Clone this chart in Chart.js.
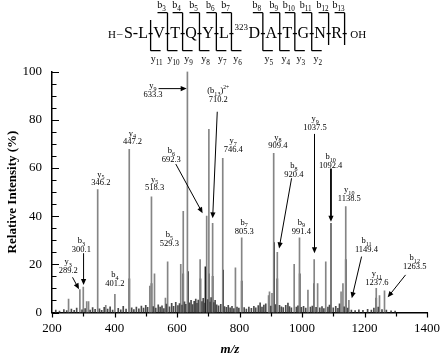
<!DOCTYPE html>
<html>
<head>
<meta charset="utf-8">
<script src="https://cdn.jsdelivr.net/npm/chart.js@4.4.0/dist/chart.umd.min.js"></script>
<style>
  html, body { margin: 0; padding: 0; background: #fff; }
</style>
</head>
<body>
<canvas id="spectrum" width="448" height="357"></canvas>
<script>
// grey main peaks (m/z, relative intensity %)
var peakMz  = [253, 289.2, 300.1, 311, 317, 346.2, 372, 401.2, 447.2, 513,
               518.3, 528, 563, 570, 612, 620, 633.3, 674, 695, 702,
               714, 746.4, 787, 807, 893, 896, 904, 909.4, 921, 975,
               992, 1019, 1039, 1050, 1076, 1093, 1125, 1131, 1140, 1150,
               1237.6, 1248, 1264];
var peakInt = [5.6, 9.5, 10.5, 4.5, 4.5, 51, 3, 7.5, 67.7, 11,
               48, 16, 6, 21, 20, 42, 100, 22, 40, 76,
               37, 64, 18.5, 31, 7, 8.6, 8, 66, 25, 20,
               31, 9.3, 22, 12, 21, 37, 8.6, 12, 44, 5,
               10, 7, 9];

// dark overlay lines
var darkMz  = [447.5, 518.5, 620, 635, 675, 691, 702, 714, 747.6, 807, 910.5, 921, 992.6, 1039, 1093, 1140, 1237.6];
var darkInt = [14, 12, 16, 17, 14, 19, 16, 15, 17.6, 13, 29, 14, 16, 12, 37, 22, 6];

// small background lines
var noiseMz  = [212, 224, 238, 247, 262, 271, 279, 296, 306, 322, 330, 338, 352, 359, 367, 378, 386, 394,
                412, 420, 428, 437, 455, 462, 470, 478, 486, 493, 500, 506, 524, 532, 540, 546, 552, 558,
                566, 576, 583, 589, 596, 603, 608, 616, 624, 628, 640, 645, 650, 655, 660, 664, 668, 680,
                684, 687, 698, 706, 709, 718, 722, 727, 733, 740, 752, 758, 764, 770, 776, 782, 792, 798,
                815, 822, 830, 838, 846, 852, 860, 866, 872, 878, 884, 900, 915, 928, 934, 940, 948, 955,
                960, 966, 982, 987, 998, 1005, 1012, 1027, 1033, 1045, 1057, 1064, 1070, 1083, 1088, 1100,
                1108, 1115, 1120, 1135, 1146, 1158, 1170, 1182, 1195, 1210, 1222, 1230, 1244, 1256, 1270,
                1285, 1298];
var noiseInt = [1.0, 0.6, 1.2, 0.8, 1.4, 0.9, 1.8, 1.1, 1.6, 1.0, 2.0, 1.3, 1.5, 0.9, 2.1, 1.4, 2.4, 1.0,
                1.7, 1.1, 2.6, 1.4, 1.9, 1.2, 2.3, 1.5, 2.7, 1.8, 3.0, 2.1, 2.5, 1.8, 3.2, 2.2, 2.8, 1.6,
                3.5, 2.4, 3.8, 2.6, 4.2, 2.9, 3.7, 3.1, 4.4, 3.4, 4.0, 5.0, 3.3, 4.6, 5.6, 3.8, 5.2, 4.5,
                5.9, 3.9, 5.4, 4.3, 6.2, 4.1, 5.0, 3.2, 2.8, 3.4, 2.5, 2.1, 3.0, 1.9, 2.6, 1.6, 2.2, 1.8,
                2.0, 1.4, 2.3, 1.7, 2.6, 1.9, 2.9, 4.0, 2.2, 3.1, 3.6, 2.7, 3.3, 3.0, 2.4, 2.0, 3.0, 3.9,
                2.5, 1.9, 2.3, 2.8, 2.1, 2.6, 1.8, 2.2, 2.7, 2.1, 1.9, 2.5, 1.6, 2.2, 3.1, 1.9,
                2.6, 1.7, 3.6, 2.4, 1.8, 1.0, 0.8, 1.1, 0.9, 1.3, 1.0, 1.8, 2.2, 1.2, 1.0,
                0.7, 0.6];

// ion annotations
var ionName = ['y3', 'b3', 'y5', 'b4', 'y4', 'y5', 'b5', 'y9', 'b6', '(b13)2+', 'y7',
               'b7', 'y8', 'b8', 'b9', 'y9', 'b10', 'y10', 'b11', 'y11', 'b12'];
var ionMass = ['289.2', '300.1', '346.2', '401.2', '447.2', '518.3', '529.3', '633.3', '692.3', '710.2', '746.4',
               '805.3', '909.4', '920.4', '991.4', '1037.5', '1092.4', '1138.5', '1149.4', '1237.6', '1263.5'];

// peptide sequence
var residues = ['S', 'L', 'V', 'T', 'Q', 'Y', 'L', 'D', 'A', 'T', 'G', 'N', 'R'];
var modSite = 7, modMass = '323';

// label layout (data units: m/z, %) — name centre, and optional arrow tail -> head
var labelPos = [[251.9, 21.1], [293.9, 29.8], [356.4, 57.3], [401.2, 15.6], [457.5, 74.4], [528.5, 55.3],
                [575.5, 32.2], [523.2, 94.0], [581.7, 67.1], [731.9, 92.0], [779.8, 71.2], [815.1, 37.3],
                [922.8, 72.7], [973.8, 60.9], [997.9, 37.3], [1041.7, 80.3], [1091.7, 64.6], [1151.2, 50.9],
                [1206.3, 29.8], [1239.7, 16.0], [1360.8, 22.7]];
var labelArrow = [[265.7, 14.6, 286.4, 9.6], [301, 24.6, 301, 11.4], null, null, null, null,
                  null, [541, 92.9, 631, 92.9], [596.1, 61.6, 681.9, 41.2], [728.8, 83.3, 714.1, 39.1], null, null,
                  null, [966.6, 55.7, 926.8, 26.6], null, [1040, 74.1, 1040, 24.6], [1092.7, 59.8, 1092.7, 37.7], null,
                  [1190.6, 23.2, 1159.3, 5.9], null, [1331.4, 15.6, 1274.2, 6.3]];

var SERIF = '"Liberation Serif", "Times New Roman", serif';

function toXY(xs, ys) {
  var out = [];
  for (var i in xs) out.push({x: xs[i], y: ys[i]});
  return out;
}

function drawIonName(ctx, name, cx, base, size) {
  var m = name.match(/^(\(?)([a-z])(\d+)(\)?)(.*)$/);
  var parts = [
    {t: m[1] + m[2], s: size, dy: 0},
    {t: m[3], s: size * 0.72, dy: size * 0.28},
    {t: m[4], s: size, dy: 0},
    {t: m[5], s: size * 0.65, dy: -size * 0.45}
  ];
  var w = 0;
  parts.forEach(function(p) { ctx.font = p.s + 'px ' + SERIF; p.w = ctx.measureText(p.t).width; w += p.w; });
  var x = cx - w / 2;
  ctx.textAlign = 'left';
  ctx.textBaseline = 'alphabetic';
  parts.forEach(function(p) { ctx.font = p.s + 'px ' + SERIF; ctx.fillText(p.t, x, base + p.dy); x += p.w; });
}

function drawArrow(ctx, x1, y1, x2, y2, lw) {
  var a = Math.atan2(y2 - y1, x2 - x1), len = 6, hw = 2.6;
  ctx.lineWidth = lw;
  ctx.beginPath();
  ctx.moveTo(x1, y1);
  ctx.lineTo(x2 - Math.cos(a) * len * 0.8, y2 - Math.sin(a) * len * 0.8);
  ctx.stroke();
  ctx.beginPath();
  ctx.moveTo(x2, y2);
  ctx.lineTo(x2 - Math.cos(a) * len - Math.sin(a) * hw, y2 - Math.sin(a) * len + Math.cos(a) * hw);
  ctx.lineTo(x2 - Math.cos(a) * len + Math.sin(a) * hw, y2 - Math.sin(a) * len - Math.cos(a) * hw);
  ctx.closePath();
  ctx.fill();
}

function drawSequence(ctx) {
  var base = 37.5, x = 108;
  ctx.textAlign = 'left';
  ctx.textBaseline = 'alphabetic';
  ctx.font = '11px ' + SERIF;
  ctx.fillText('H', x, base);
  x += ctx.measureText('H').width + 1;
  ctx.fillText('\u2013', x, base - 0.5);
  x += ctx.measureText('\u2013').width + 1.5;
  var cuts = [];
  residues.forEach(function(r, i) {
    if (i === modSite) {
      ctx.font = '9px ' + SERIF;
      ctx.fillText(modMass, x + 0.5, base - 8);
      x += ctx.measureText(modMass).width + 1;
    }
    ctx.font = '16px ' + SERIF;
    ctx.fillText(r, x, base);
    x += ctx.measureText(r).width;
    var hw = ctx.measureText('-').width;
    ctx.fillText('-', x, base);
    cuts.push(x + hw / 2);
    x += hw;
  });
  ctx.font = '11px ' + SERIF;
  ctx.fillText('OH', x + 3, base);

  var n = residues.length, top = 12.7, bot = 50.7;
  ctx.strokeStyle = '#000';
  ctx.lineWidth = 1.3;
  for (var k = 2; k <= n; k++) {
    var cx = cuts[k - 1], hasB = k >= 3, hasY = (n - k) >= 2 && (n - k) <= 11;
    ctx.beginPath();
    ctx.moveTo(cx, hasB ? top : 20);
    ctx.lineTo(cx, hasY ? bot : 45);
    if (hasB) { ctx.moveTo(cx, top); ctx.lineTo(cx - 10, top); }
    if (hasY) { ctx.moveTo(cx, bot); ctx.lineTo(cx + 10, bot); }
    ctx.stroke();
    if (hasB) drawIonName(ctx, 'b' + k, cx - 6, 8, 10);
    if (hasY) drawIonName(ctx, 'y' + (n - k), cx + 6, 62, 10);
  }
}

var annotate = {
  id: 'annotate',
  afterDraw: function(chart) {
    var ctx = chart.ctx, xs = chart.scales.x, ys = chart.scales.y;
    ctx.save();
    ctx.fillStyle = '#000';
    ctx.strokeStyle = '#000';

    // axis tick marks: y inward, x outward
    ctx.lineWidth = 1.2;
    ctx.beginPath();
    for (var v = 0; v <= 100; v += 5) {
      var py = Math.round(ys.getPixelForValue(v)) + 0.5;
      ctx.moveTo(xs.left, py);
      ctx.lineTo(xs.left + (v % 20 === 0 ? 7 : 4.5), py);
    }
    for (var m = 200; m <= 1400; m += 100) {
      var px = Math.round(xs.getPixelForValue(m)) + 0.5;
      ctx.moveTo(px, ys.bottom);
      ctx.lineTo(px, ys.bottom + (m % 200 === 0 ? 5 : 4));
    }
    ctx.stroke();

    // ion labels and arrows
    ionName.forEach(function(name, i) {
      var cx = xs.getPixelForValue(labelPos[i][0]);
      var cy = ys.getPixelForValue(labelPos[i][1]);
      drawIonName(ctx, name, cx, cy + 2.5, 8.5);
      ctx.font = '8.5px ' + SERIF;
      ctx.textAlign = 'center';
      ctx.fillText(ionMass[i], cx, cy + 11);
      var a = labelArrow[i];
      if (a) {
        drawArrow(ctx, xs.getPixelForValue(a[0]), ys.getPixelForValue(a[1]),
                  xs.getPixelForValue(a[2]), ys.getPixelForValue(a[3]), name === 'b10' ? 1.8 : 1);
      }
    });

    drawSequence(ctx);

    // axis titles
    ctx.textAlign = 'center';
    ctx.textBaseline = 'middle';
    ctx.font = 'italic bold 13px ' + SERIF;
    ctx.fillText('m/z', 230, 350);
    ctx.translate(13, (ys.top + ys.bottom) / 2);
    ctx.rotate(-Math.PI / 2);
    ctx.font = 'bold 13px ' + SERIF;
    ctx.fillText('Relative Intensity (%)', 0, 0);
    ctx.restore();
  }
};

var ctx = document.getElementById('spectrum');
var spectrumChart = new Chart(ctx, {
  type: 'bar',
  data: {
    datasets: [
      { label: 'noise', data: toXY(noiseMz, noiseInt), backgroundColor: '#4a4a4a' },
      { label: 'peaks', data: toXY(peakMz, peakInt), backgroundColor: '#858585' },
      { label: 'dark',  data: toXY(darkMz, darkInt), backgroundColor: '#111111' }
    ]
  },
  options: {
    responsive: false,
    animation: false,
    datasets: { bar: { grouped: false, barThickness: 1 } },
    layout: { padding: { top: 71.5, left: 0, right: 0, bottom: 0 } },
    plugins: { legend: { display: false }, tooltip: { enabled: false } },
    scales: {
      x: {
        type: 'linear', min: 200, max: 1400, offset: false,
        grid: { display: false, drawTicks: false },
        border: { display: true, color: '#000', width: 1.5 },
        ticks: { stepSize: 200, maxRotation: 0, padding: 8, color: '#000', font: { family: SERIF, size: 13 },
                 callback: function(v) { return String(v); } },
        afterFit: function(s) { s.height = 44.5; }
      },
      y: {
        min: 0, max: 100,
        grid: { display: false, drawTicks: false },
        border: { display: true, color: '#000', width: 1.5 },
        ticks: { stepSize: 20, padding: 10, color: '#000', font: { family: SERIF, size: 13 } },
        afterFit: function(s) { s.width = 52; }
      }
    }
  },
  plugins: [annotate]
});
</script>
</body>
</html>
